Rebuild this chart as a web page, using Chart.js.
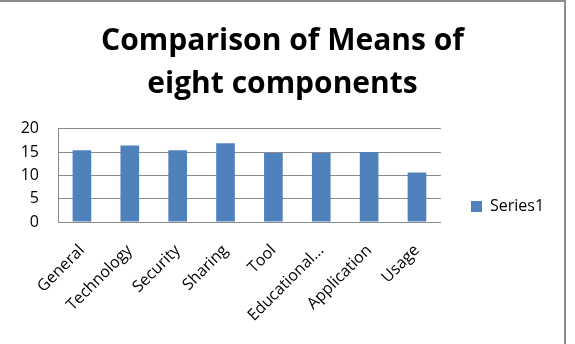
<!DOCTYPE html>
<html>
<head>
<meta charset="utf-8">
<script src="https://cdn.jsdelivr.net/npm/chart.js@4/dist/chart.umd.min.js"></script>
<style>
  html, body { margin:0; padding:0; background:#fff; }
  #wrap { width:575px; height:344px; position:relative; }
</style>
</head>
<body>
<div id="wrap"><canvas id="chart" width="575" height="344"></canvas></div>
<script>
const categories = ['General','Technology','Security','Sharing','Tool','Educational...','Application','Usage'];
const series1 = [15.4, 16.4, 15.4, 16.9, 14.8, 14.8, 15.0, 10.6];
const yTicks = [0, 5, 10, 15, 20];
const titleLines = ['Comparison of Means of', 'eight components'];

const FONT = "'Open Sans', sans-serif";
const GRID = '#8a8a8a';
const LEG_PAD = 41;

// outer frame: top edge and right edge like the pasted Excel chart
const framePlugin = {
  id:'frame',
  beforeDraw(chart){
    const c = chart.ctx;
    c.save();
    c.fillStyle = '#fff'; c.fillRect(0,0,chart.width,chart.height);
    c.restore();
    // put the legend where Excel puts it: square at x~471, centred on y~227
    const lg = chart.legend;
    if(lg){
      const w = lg.width;
      lg.left = 471 - LEG_PAD; lg.right = lg.left + w;
      const colH = lg.columnSizes && lg.columnSizes[0] ? lg.columnSizes[0].height : 16;
      const yt = 227 - colH/2;
      lg.top = yt - LEG_PAD; lg.bottom = yt + colH;
    }
  },
  afterDraw(chart){
    const c = chart.ctx;
    c.save();
    c.strokeStyle = '#8c8c8c'; c.lineWidth = 2;
    c.beginPath();
    c.moveTo(0,1); c.lineTo(565,1);
    c.moveTo(565,0); c.lineTo(565,chart.height);
    c.stroke();
    c.restore();
  }
};

new Chart(document.getElementById('chart'), {
  type:'bar',
  data:{
    labels:categories,
    datasets:[{ label:'Series1', data:series1, backgroundColor:'#4F81BD', borderWidth:0,
      barPercentage:0.39, categoryPercentage:1 }]
  },
  plugins:[framePlugin],
  options:{
    responsive:false,
    animation:false,
    layout:{ padding:{ left:0, right:10, top:0, bottom:0 } },
    plugins:{
      title:{ display:true, text:titleLines, color:'#000',
        font:{ family:FONT, size:30, weight:'bold', lineHeight:1.43 },
        padding:{ top:20, bottom:23 } },
      legend:{ position:'right',
        labels:{ boxWidth:11, boxHeight:11, padding:LEG_PAD, color:'#000',
          font:{ family:FONT, size:16 } } },
      tooltip:{ enabled:false }
    },
    scales:{
      x:{
        grid:{ display:false },
        border:{ display:true, color:GRID, width:1 },
        ticks:{ color:'#000', minRotation:45, maxRotation:45, autoSkip:false, padding:11,
          font:{ family:FONT, size:16 } },
        afterFit(s){ s.height = 122; }
      },
      y:{
        min:0, max:20,
        afterBuildTicks(s){ s.ticks = yTicks.map(v=>({value:v})); },
        grid:{ color:GRID, lineWidth:1, drawTicks:false },
        border:{ display:true, color:GRID, width:1 },
        ticks:{ color:'#000', padding:19, font:{ family:FONT, size:16 } },
        afterFit(s){ s.width = 58; }
      }
    }
  }
});
</script>
</body>
</html>
